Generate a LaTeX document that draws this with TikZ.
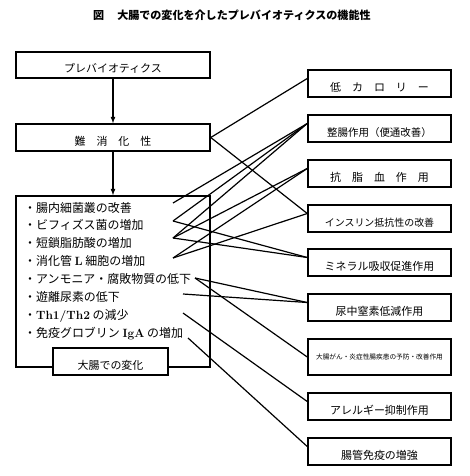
\documentclass[tikz,border=0pt]{standalone}
\usepackage{fontspec}
\newfontfamily\jp{Noto Sans CJK JP}
\usetikzlibrary{positioning}

\tikzset{
  box/.style={draw, line width=1.5bp, inner sep=0pt, minimum height=27bp,
    text height=21.5bp, text depth=5.5bp, font=\jp\fontsize{11}{13}\selectfont},
  lbox/.style={box, minimum width=194bp},
  rbox/.style={box, minimum width=143bp},
  item/.style={anchor=west, inner sep=0pt, font=\jp\fontsize{12}{14}\selectfont},
  link/.style={line width=1.2bp},
  flow/.style={line width=1.2bp, -latex}
}

\begin{document}
\begin{tikzpicture}[x=1bp, y=1bp]
        \useasboundingbox (0,0) rectangle (470,-476);

        % Title
        \node[anchor=west, inner sep=0pt, font=\jp\bfseries\fontsize{11.1}{14}\selectfont] (title) at (93,-15) {図\hspace{13bp}大腸での変化を介したプレバイオティクスの機能性};

        % Left column
        \node[lbox, minimum height=26bp, text height=20.5bp] (prebio) at (113,-65) {プレバイオティクス};
        \node[lbox] (nanshoka) at (113,-137.5) {難　消　化　性};
        \node[draw, line width=1.5bp, minimum width=194bp, minimum height=171bp, inner sep=0pt] (change) at (113,-281.5) {};
        \node[lbox, minimum width=115bp, fill=white] (changelabel) at (110.5,-361.5) {大腸での変化};

        % Changes in the large intestine
        \node[item] (i1) at (24,-208) {・腸内細菌叢の改善};
        \node[item] (i2) at (24,-225) {・ビフィズス菌の増加};
        \node[item] (i3) at (24,-243) {・短鎖脂肪酸の増加};
        \node[item] (i4) at (24,-261) {・消化管 {\rmfamily\bfseries L} 細胞の増加};
        \node[item] (i5) at (24,-279) {・アンモニア・腐敗物質の低下};
        \node[item] (i6) at (24,-297) {・遊離尿素の低下};
        \node[item] (i7) at (24,-316) {・{\rmfamily\bfseries Th1/Th2} の減少};
        \node[item] (i8) at (24,-334) {・免疫グロブリン {\rmfamily\bfseries IgA} の増加};

        % Functions
        \node[rbox] (r1) at (379.5,-83.5) {低　カ　ロ　リ　ー};
        \node[rbox, font=\jp\fontsize{10.5}{13}\selectfont] (r2) at (379.5,-128.5) {整腸作用（便通改善）};
        \node[rbox] (r3) at (379.5,-173.5) {抗　脂　血　作　用};
        \node[rbox, font=\jp\fontsize{10}{12}\selectfont] (r4) at (379.5,-218.5) {インスリン抵抗性の改善};
        \node[rbox] (r5) at (379.5,-262.5) {ミネラル吸収促進作用};
        \node[rbox] (r6) at (379.5,-307.5) {尿中窒素低減作用};
        \node[rbox, minimum height=36bp, text height=20bp, text depth=16bp,
              font=\jp\fontsize{6.7}{8}\selectfont] (r7) at (379.5,-357) {大腸がん・炎症性腸疾患の予防・改善作用};
        \node[rbox] (r8) at (379.5,-406.5) {アレルギー抑制作用};
        \node[rbox] (r9) at (379.5,-451.5) {腸管免疫の増強};

        % Free ends of the connectors
        \coordinate (p1) at (173,-203);
        \coordinate (p2) at (173,-221);
        \coordinate (p3) at (173,-238);
        \coordinate (p4) at (173,-258);
        \coordinate (p5) at (195,-278);
        \coordinate (p6) at (183,-294);
        \coordinate (p7) at (183,-313);
        \coordinate (p8) at (188,-338);

        % Arrows
        \draw[flow] (prebio) -- (nanshoka);
        \draw[flow] (nanshoka) -- (change);

        % Connectors
        \draw[link] (nanshoka.east) -- ([yshift=5bp]r1.west);
        \draw[link] (nanshoka.east) -- ([yshift=5bp]r4.west);
        \draw[link] (p1) -- ([yshift=5bp]r2.west);
        \draw[link] (p2) -- ([yshift=5bp]r2.west);
        \draw[link] (p2) -- ([yshift=5bp]r5.west);
        \draw[link] (p3) -- ([yshift=5bp]r2.west);
        \draw[link] (p3) -- ([yshift=5bp]r3.west);
        \draw[link] (p3) -- ([yshift=5bp]r5.west);
        \draw[link] (p4) -- ([yshift=5bp]r3.west);
        \draw[link] (p4) -- ([yshift=5bp]r4.west);
        \draw[link] (p5) -- ([yshift=5bp]r6.west);
        \draw[link] (p5) -- (r7.west);
        \draw[link] (p6) -- ([yshift=5bp]r6.west);
        \draw[link] (p7) -- ([yshift=5bp]r8.west);
        \draw[link] (p8) -- ([yshift=5bp]r9.west);
    \end{tikzpicture}
\end{document}
